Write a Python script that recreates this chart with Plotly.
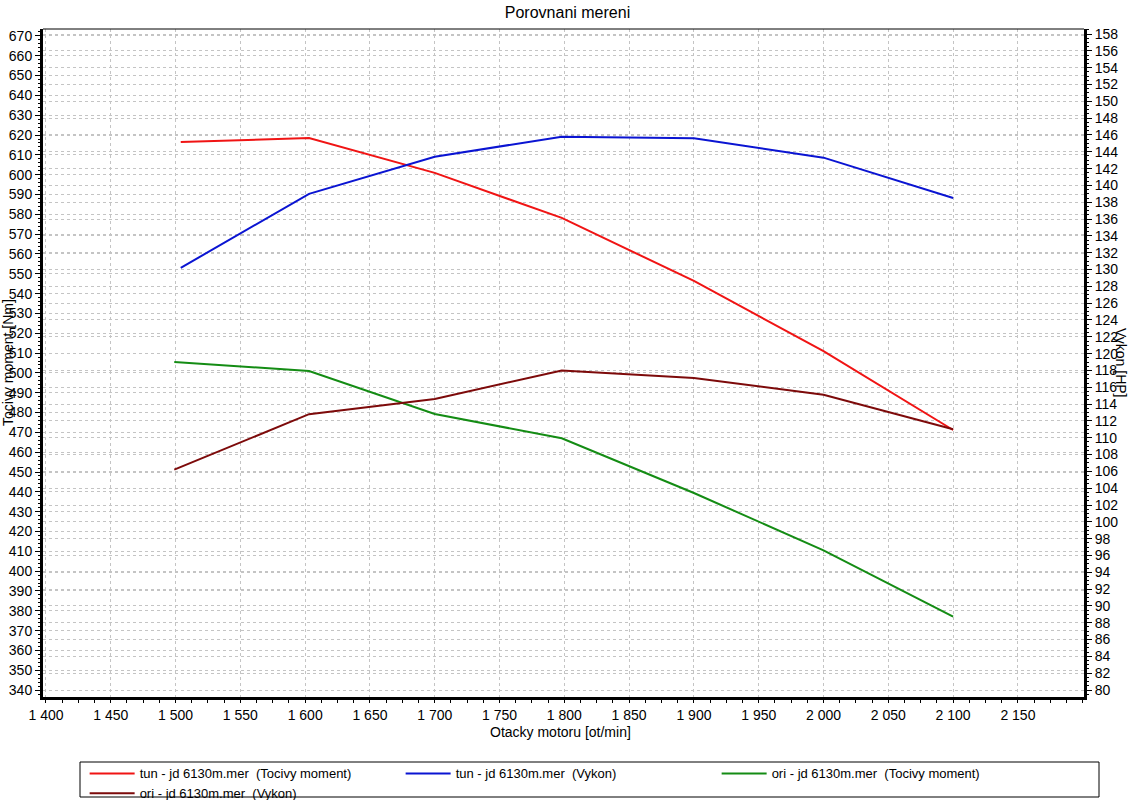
import plotly.graph_objects as go

rpm_tun = [1504, 1603, 1700, 1798, 1900, 2000, 2100]
rpm_ori = [1499, 1603, 1700, 1798, 1900, 2000, 2100]
tun_torque = [616.5, 618.5, 600.9, 578.2, 546.4, 511.0, 471.2]
tun_power = [130.2, 139.0, 143.4, 145.8, 145.6, 143.3, 138.5]
ori_torque = [505.5, 501.0, 479.3, 467.0, 439.4, 410.5, 377.0]
ori_power = [106.2, 112.8, 114.6, 118.0, 117.1, 115.1, 111.0]

names = ["tun - jd 6130m.mer  (Tocivy moment)", "tun - jd 6130m.mer  (Vykon)",
         "ori - jd 6130m.mer  (Tocivy moment)", "ori - jd 6130m.mer  (Vykon)"]
colors = ["#f01414", "#0a14d2", "#148c14", "#7d0a0a"]

x_ticks = list(range(1400, 2151, 50))
x_ticktext = [f"{v // 1000} {v % 1000:03d}" for v in x_ticks]

FONT = "Liberation Sans, Arial, sans-serif"

fig = go.Figure()
fig.add_trace(go.Scatter(x=rpm_tun, y=tun_torque, name=names[0], mode="lines",
                         line=dict(color=colors[0], width=2), yaxis="y"))
fig.add_trace(go.Scatter(x=rpm_tun, y=tun_power, name=names[1], mode="lines",
                         line=dict(color=colors[1], width=2), yaxis="y2"))
fig.add_trace(go.Scatter(x=rpm_ori, y=ori_torque, name=names[2], mode="lines",
                         line=dict(color=colors[2], width=2), yaxis="y"))
fig.add_trace(go.Scatter(x=rpm_ori, y=ori_power, name=names[3], mode="lines",
                         line=dict(color=colors[3], width=2), yaxis="y2"))

grid = dict(showgrid=True, gridcolor="#c4c4c4", griddash="dot", gridwidth=1)

fig.update_layout(
    width=1135, height=800,
    margin=dict(l=43, r=51, t=29, b=103, autoexpand=False),
    paper_bgcolor="white", plot_bgcolor="white",
    font=dict(family=FONT, size=14, color="black"),
    title=dict(text="Porovnani mereni", x=0.5, xanchor="center", y=0.984, yanchor="middle",
               font=dict(size=16, family=FONT)),
    xaxis=dict(range=[1397.7, 2201], tickmode="array", tickvals=x_ticks, ticktext=x_ticktext,
               ticks="outside", ticklen=3, tickcolor="black", showline=True, linewidth=3,
               linecolor="black", zeroline=False, tickfont=dict(size=14),
               minor=dict(dtick=12.5, tick0=1400, ticks="outside", ticklen=3, tickcolor="black", showgrid=False),
               **grid),
    yaxis=dict(range=[336.5, 673.5], dtick=10, tick0=340, ticks="outside", ticklen=5,
               tickcolor="black", showline=True, linewidth=3, linecolor="black", zeroline=False,
               minor=dict(dtick=2, ticks="outside", ticklen=2, tickcolor="black", showgrid=False),
               **grid),
    yaxis2=dict(range=[79.17, 158.6], dtick=2, tick0=80, overlaying="y", side="right",
                ticks="outside", ticklen=5, tickcolor="black", showline=True, linewidth=3,
                linecolor="black", zeroline=False,
                minor=dict(dtick=0.5, ticks="outside", ticklen=2, tickcolor="black", showgrid=False),
                **grid),
    showlegend=True,
    legend=dict(orientation="h", x=0.040, xanchor="left", y=-0.092, yanchor="top",
                entrywidth=256, entrywidthmode="pixels", tracegroupgap=0,
                font=dict(size=13, family=FONT), bgcolor="rgba(0,0,0,0)",
                borderwidth=0, itemwidth=45),
)

# top thin border
fig.add_shape(type="line", xref="paper", yref="paper", x0=0, x1=1, y0=1, y1=1,
              line=dict(color="black", width=1))
# legend box
fig.add_shape(type="rect", xref="paper", yref="paper",
              x0=(80 - 43) / 1041, x1=(1099 - 43) / 1041,
              y0=(697 - 797) / 668, y1=(697 - 762) / 668,
              line=dict(color="black", width=1))

fig.add_annotation(text="Otacky motoru [ot/min]", xref="paper", yref="paper",
                   x=(560 - 43) / 1041, y=(697 - 732) / 668, xanchor="center", yanchor="middle",
                   showarrow=False, font=dict(size=14, family=FONT))
fig.add_annotation(text="Tocivy moment [Nm]", xref="paper", yref="paper",
                   x=(8 - 43) / 1041, y=0.5, xanchor="center", yanchor="middle",
                   textangle=-90, showarrow=False, font=dict(size=14, family=FONT))
fig.add_annotation(text="Vykon [HP]", xref="paper", yref="paper",
                   x=(1121 - 43) / 1041, y=0.5, xanchor="center", yanchor="middle",
                   textangle=90, showarrow=False, font=dict(size=14, family=FONT))

fig.write_html("out.html", config={"displayModeBar": False},
               post_script="document.body.style.margin='0px';document.body.style.overflow='hidden';")
